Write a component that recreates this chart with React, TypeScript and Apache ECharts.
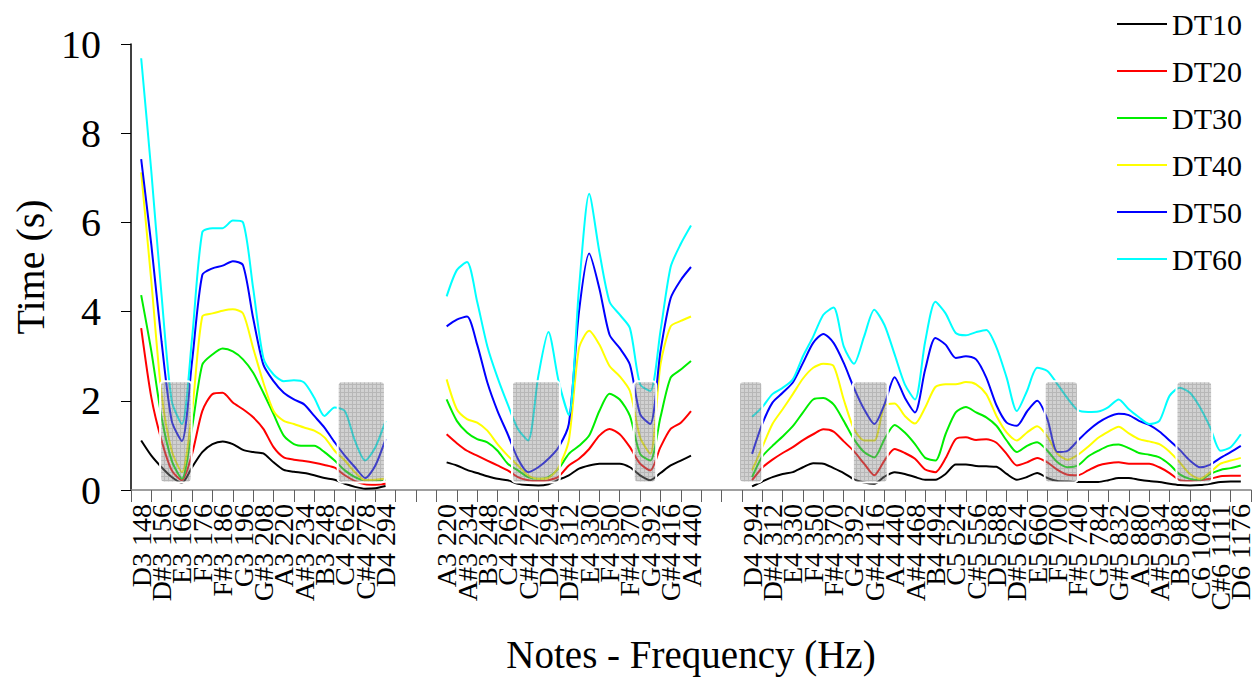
import React, { useEffect, useRef } from 'react';
import * as echarts from 'echarts';

const FONT = 'Liberation Serif';

const categories = [
  'D3 148', 'D#3 156', 'E3 166', 'F3 176', 'F#3 186', 'G3 196', 'G#3 208', 'A3 220', 'A#3 234', 'B3 248', 'C4 262', 'C#4 278', 'D4 294',
  '', '',
  'A3 220', 'A#3 234', 'B3 248', 'C4 262', 'C#4 278', 'D4 294', 'D#4 312', 'E4 330', 'F4 350', 'F#4 370', 'G4 392', 'G#4 416', 'A4 440',
  '', '',
  'D4 294', 'D#4 312', 'E4 330', 'F4 350', 'F#4 370', 'G4 392', 'G#4 416', 'A4 440', 'A#4 468', 'B4 494', 'C5 524', 'C#5 556', 'D5 588',
  'D#5 624', 'E5 660', 'F5 700', 'F#5 740', 'G5 784', 'G#5 832', 'A5 880', 'A#5 934', 'B5 988', 'C6 1048', 'C#6 1111', 'D6 1176',
];

// first category index of each measured group; samples every half category
const groupStarts = [0, 15, 30];
const STEP = 0.5;

const seriesNames = ['DT10', 'DT20', 'DT30', 'DT40', 'DT50', 'DT60'];
const seriesColors = ['#000000', '#ff0000', '#00ee00', '#ffff00', '#0000ff', '#00ffff'];

// ---- group 1 (D3 .. D4) ----
const dt10_g1 = [1.11, 0.77, 0.51, 0.29, 0.16, 0.51, 0.85, 1.03, 1.09, 1.03, 0.90, 0.85, 0.82, 0.62, 0.45, 0.41, 0.38, 0.33, 0.27, 0.23, 0.14, 0.07, 0.03, 0.04, 0.09];
const dt20_g1 = [3.63, 2.07, 1.11, 0.44, 0.22, 0.81, 1.77, 2.15, 2.18, 1.96, 1.81, 1.63, 1.37, 0.96, 0.73, 0.68, 0.65, 0.61, 0.56, 0.50, 0.33, 0.20, 0.13, 0.12, 0.14];
const dt30_g1 = [4.37, 3.11, 1.63, 0.66, 0.25, 1.40, 2.81, 3.04, 3.17, 3.11, 2.93, 2.63, 2.18, 1.70, 1.22, 1.03, 0.99, 0.99, 0.85, 0.66, 0.44, 0.29, 0.22, 0.22, 0.23];
const dt40_g1 = [7.12, 4.67, 2.15, 0.88, 0.40, 1.77, 3.89, 3.96, 4.02, 4.05, 3.96, 3.18, 2.41, 1.77, 1.55, 1.48, 1.40, 1.33, 1.18, 0.88, 0.66, 0.40, 0.22, 0.23, 0.25];
const dt50_g1 = [7.42, 5.49, 3.33, 1.55, 1.10, 2.89, 4.82, 4.97, 5.03, 5.13, 5.04, 3.85, 2.81, 2.44, 2.18, 2.03, 1.92, 1.66, 1.40, 1.07, 0.77, 0.51, 0.27, 0.55, 1.14];
const dt60_g1 = [9.68, 7.13, 4.37, 2.00, 1.48, 3.41, 5.78, 5.87, 5.87, 6.04, 6.00, 4.52, 2.96, 2.59, 2.44, 2.46, 2.41, 2.07, 1.66, 1.85, 1.77, 1.10, 0.66, 0.96, 1.55];

// ---- group 2 (A3 .. A4) ----
const dt10_g2 = [0.62, 0.55, 0.45, 0.38, 0.31, 0.25, 0.22, 0.14, 0.11, 0.10, 0.13, 0.23, 0.33, 0.48, 0.55, 0.59, 0.59, 0.59, 0.51, 0.33, 0.22, 0.38, 0.55, 0.66, 0.77];
const dt20_g2 = [1.25, 1.05, 0.88, 0.77, 0.66, 0.55, 0.44, 0.29, 0.22, 0.20, 0.22, 0.30, 0.55, 0.70, 0.92, 1.22, 1.37, 1.25, 0.96, 0.59, 0.44, 0.96, 1.37, 1.51, 1.77];
const dt30_g2 = [2.03, 1.55, 1.29, 1.14, 1.07, 0.88, 0.59, 0.44, 0.29, 0.25, 0.29, 0.48, 0.81, 0.99, 1.22, 1.77, 2.16, 2.03, 1.66, 0.81, 0.66, 1.63, 2.52, 2.70, 2.89];
const dt40_g2 = [2.48, 1.81, 1.59, 1.51, 1.33, 1.03, 0.77, 0.55, 0.33, 0.25, 0.27, 0.51, 1.11, 3.18, 3.57, 3.26, 2.78, 2.55, 2.22, 1.18, 0.81, 2.81, 3.67, 3.79, 3.89];
const dt50_g2 = [3.67, 3.82, 3.89, 3.26, 2.41, 1.77, 1.25, 0.70, 0.40, 0.51, 0.70, 0.96, 1.48, 4.00, 5.30, 4.52, 3.48, 3.18, 2.81, 1.70, 1.48, 3.11, 4.30, 4.71, 5.00];
const dt60_g2 = [4.34, 4.93, 5.11, 4.22, 3.22, 2.52, 1.92, 1.37, 1.11, 2.55, 3.54, 2.44, 1.68, 4.52, 6.64, 5.34, 4.22, 3.93, 3.63, 2.37, 2.22, 3.56, 5.00, 5.52, 5.93];

// ---- group 3 (D4 .. D6) ----
const dt10_g3 = [0.08, 0.19, 0.29, 0.36, 0.40, 0.51, 0.60, 0.59, 0.49, 0.38, 0.24, 0.17, 0.14, 0.30, 0.40, 0.36, 0.29, 0.23, 0.23, 0.36, 0.57, 0.57, 0.54, 0.53, 0.52,
  0.36, 0.23, 0.29, 0.38, 0.27, 0.20, 0.19, 0.18, 0.18, 0.18, 0.22, 0.27, 0.27, 0.23, 0.20, 0.18, 0.14, 0.11, 0.10, 0.11, 0.14, 0.18, 0.19, 0.19];
const dt20_g3 = [0.22, 0.50, 0.68, 0.83, 0.96, 1.12, 1.25, 1.36, 1.31, 1.09, 0.87, 0.59, 0.33, 0.66, 0.92, 0.83, 0.70, 0.46, 0.40, 0.71, 1.14, 1.18, 1.12, 1.14, 1.06,
  0.81, 0.55, 0.62, 0.72, 0.62, 0.45, 0.34, 0.33, 0.44, 0.55, 0.60, 0.62, 0.59, 0.59, 0.59, 0.51, 0.38, 0.22, 0.20, 0.22, 0.25, 0.31, 0.32, 0.32];
const dt30_g3 = [0.29, 0.75, 0.99, 1.20, 1.43, 1.74, 2.03, 2.06, 1.92, 1.55, 1.14, 0.85, 0.73, 1.14, 1.46, 1.29, 1.03, 0.72, 0.66, 1.25, 1.74, 1.86, 1.74, 1.63, 1.44,
  1.11, 0.85, 0.99, 1.07, 0.88, 0.62, 0.51, 0.55, 0.75, 0.88, 0.99, 1.02, 0.94, 0.83, 0.79, 0.73, 0.57, 0.35, 0.25, 0.23, 0.36, 0.45, 0.49, 0.55];
const dt40_g3 = [0.44, 0.96, 1.48, 1.81, 2.15, 2.50, 2.74, 2.83, 2.78, 2.03, 1.37, 1.11, 1.11, 1.89, 1.94, 1.66, 1.49, 1.85, 2.31, 2.37, 2.37, 2.42, 2.37, 2.15, 1.66,
  1.29, 1.11, 1.29, 1.43, 1.20, 0.81, 0.68, 0.79, 0.97, 1.17, 1.31, 1.42, 1.27, 1.14, 1.09, 1.03, 0.86, 0.62, 0.36, 0.25, 0.40, 0.59, 0.66, 0.72];
const dt50_g3 = [0.81, 1.48, 1.96, 2.18, 2.41, 2.85, 3.30, 3.50, 3.30, 2.85, 2.29, 1.81, 1.48, 1.92, 2.53, 2.07, 1.74, 2.70, 3.41, 3.26, 2.96, 3.00, 2.93, 2.52, 1.90,
  1.51, 1.44, 1.76, 2.00, 1.59, 0.85, 0.88, 1.11, 1.33, 1.51, 1.64, 1.71, 1.68, 1.55, 1.46, 1.31, 1.11, 0.90, 0.66, 0.51, 0.57, 0.72, 0.85, 0.99];
const dt60_g3 = [1.64, 1.86, 2.15, 2.29, 2.48, 3.00, 3.44, 3.93, 4.09, 3.22, 2.83, 3.44, 4.04, 3.70, 3.04, 2.37, 2.03, 3.33, 4.22, 3.96, 3.52, 3.47, 3.54, 3.59, 3.20,
  2.52, 1.77, 2.22, 2.74, 2.67, 2.37, 2.05, 1.79, 1.75, 1.76, 1.86, 2.03, 1.81, 1.63, 1.48, 1.55, 2.11, 2.29, 2.18, 1.85, 1.40, 0.88, 0.96, 1.25];

const seriesGroups = [
  [dt10_g1, dt10_g2, dt10_g3],
  [dt20_g1, dt20_g2, dt20_g3],
  [dt30_g1, dt30_g2, dt30_g3],
  [dt40_g1, dt40_g2, dt40_g3],
  [dt50_g1, dt50_g2, dt50_g3],
  [dt60_g1, dt60_g2, dt60_g3],
];

// shaded regions: [fromCategory, toCategory, fromTime, toTime]
const shadedBoxes = [
  [1.43, 2.98, 0.17, 2.44],
  [10.15, 12.47, 0.17, 2.44],
  [18.71, 21.06, 0.17, 2.44],
  [24.69, 25.79, 0.17, 2.44],
  [29.86, 31.0, 0.17, 2.44],
  [35.45, 37.16, 0.17, 2.44],
  [44.87, 46.5, 0.17, 2.44],
  [51.34, 53.09, 0.17, 2.44],
];

function makePattern(): any {
  try {
    const c = document.createElement('canvas');
    c.width = 4;
    c.height = 4;
    const ctx = c.getContext('2d');
    if (!ctx) return 'rgba(140,140,140,0.45)';
    ctx.fillStyle = 'rgba(145,145,145,0.42)';
    ctx.fillRect(0, 0, 4, 4);
    ctx.fillStyle = 'rgba(90,90,90,0.22)';
    ctx.fillRect(0, 0, 4, 1);
    ctx.fillRect(0, 1, 1, 3);
    return { image: c, repeat: 'repeat', imageWidth: 4, imageHeight: 4 };
  } catch (e) {
    return 'rgba(140,140,140,0.45)';
  }
}

export default function App() {
  const ref = useRef<HTMLDivElement>(null);

  useEffect(() => {
    if (!ref.current) return;
    const chart = echarts.init(ref.current, undefined, { renderer: 'svg' });
    const pattern = makePattern();

    const lineSeries: any[] = [];
    seriesGroups.forEach((groups, si) => {
      groups.forEach((vals, gi) => {
        lineSeries.push({
          type: 'line',
          name: seriesNames[si],
          xAxisIndex: 1,
          yAxisIndex: 0,
          symbol: 'none',
          silent: true,
          smooth: 0.25,
          z: 2,
          lineStyle: { color: seriesColors[si], width: 2 },
          itemStyle: { color: seriesColors[si] },
          data: vals.map((v, k) => [groupStarts[gi] + 0.5 + k * STEP, v]),
        });
      });
    });

    const boxSeries = {
      type: 'custom',
      xAxisIndex: 1,
      yAxisIndex: 0,
      z: 10,
      silent: true,
      data: shadedBoxes,
      encode: { x: [0, 1], y: [2, 3] },
      renderItem: (params: any, api: any) => {
        const p0 = api.coord([api.value(0), api.value(3)]);
        const p1 = api.coord([api.value(1), api.value(2)]);
        return {
          type: 'rect',
          shape: { x: p0[0], y: p0[1], width: p1[0] - p0[0], height: p1[1] - p0[1], r: 4 },
          style: { fill: pattern, stroke: '#ffffff', lineWidth: 2 },
        };
      },
    };

    chart.setOption({
      animation: false,
      backgroundColor: '#ffffff',
      textStyle: { fontFamily: FONT },
      grid: { left: 131, right: 7, top: 44, bottom: 186, containLabel: false },
      legend: {
        data: seriesNames,
        orient: 'vertical',
        left: 1117,
        top: 9,
        padding: 0,
        itemWidth: 50,
        itemHeight: 2,
        itemGap: 17,
        icon: 'rect',
        textStyle: { fontFamily: FONT, fontSize: 30, color: '#000' },
        selectedMode: false,
      },
      xAxis: [
        {
          type: 'category',
          data: categories,
          boundaryGap: true,
          axisLine: { show: true, lineStyle: { color: '#808080', width: 1.5 } },
          axisTick: { show: true, interval: 0, length: 12, lineStyle: { color: '#606060', width: 1 } },
          axisLabel: { interval: 0, rotate: 90, fontFamily: FONT, fontSize: 28, lineHeight: 20, color: '#000', margin: 14 },
          splitLine: { show: false },
          name: 'Notes - Frequency (Hz)',
          nameLocation: 'middle',
          nameGap: 145,
          nameTextStyle: { fontFamily: FONT, fontSize: 39, color: '#000' },
        },
        { type: 'value', min: 0, max: 55, show: false },
      ],
      yAxis: {
        type: 'value',
        min: 0,
        max: 10,
        interval: 2,
        axisLine: { show: true, lineStyle: { color: '#000', width: 1.5 } },
        axisTick: { show: true, length: 10, lineStyle: { color: '#000' } },
        splitLine: { show: false },
        axisLabel: { fontFamily: FONT, fontSize: 40, color: '#000', margin: 30 },
        name: 'Time (s)',
        nameLocation: 'middle',
        nameGap: 78,
        nameTextStyle: { fontFamily: FONT, fontSize: 40, color: '#000' },
      },
      series: [...lineSeries, boxSeries],
    });

    return () => chart.dispose();
  }, []);

  return <div ref={ref} style={{ position: 'fixed', left: 0, top: 0, width: 1258, height: 679 }} />;
}
